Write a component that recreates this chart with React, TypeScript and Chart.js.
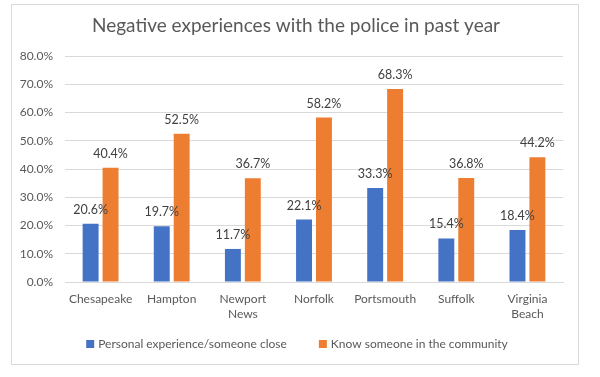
import React, { useEffect, useRef } from "react";
import { Chart, registerables } from "chart.js";

Chart.register(...registerables);

const categories: (string | string[])[] = [
  "Chesapeake",
  "Hampton",
  ["Newport", "News"],
  "Norfolk",
  "Portsmouth",
  "Suffolk",
  ["Virginia", "Beach"],
];
const personalValues = [20.6, 19.7, 11.7, 22.1, 33.3, 15.4, 18.4];
const communityValues = [40.4, 52.5, 36.7, 58.2, 68.3, 36.8, 44.2];
const seriesNames = ["Personal experience/someone close", "Know someone in the community"];
const seriesColors = ["#4472c4", "#ed7d31"];
const titleText = "Negative experiences with the police in past year";

const FONT = "Lato, 'Open Sans', sans-serif";

const frame = {
  id: "frame",
  beforeDraw(chart: any) {
    const ctx = chart.ctx;
    ctx.save();
    ctx.fillStyle = "#ffffff";
    ctx.fillRect(0, 0, chart.width, chart.height);
    ctx.strokeStyle = "#d9d9d9";
    ctx.lineWidth = 1;
    ctx.strokeRect(11.5, 4.5, 567, 360);
    // title
    ctx.fillStyle = "#595959";
    ctx.font = `19px ${FONT}`;
    ctx.textAlign = "center";
    ctx.textBaseline = "middle";
    ctx.fillText(titleText, 296, 26);
    // legend
    ctx.font = `12px ${FONT}`;
    ctx.textAlign = "left";
    const box = 8;
    const gapText = 4;
    const gapItem = 32;
    const widths = seriesNames.map((n) => box + gapText + ctx.measureText(n).width);
    const total = widths.reduce((a, b) => a + b, 0) + gapItem * (widths.length - 1);
    let x = 297 - total / 2;
    const y = 344;
    seriesNames.forEach((n, i) => {
      ctx.fillStyle = seriesColors[i];
      ctx.fillRect(x, y - box / 2, box, box);
      ctx.fillStyle = "#595959";
      ctx.fillText(n, x + box + gapText, y + 0.5);
      x += widths[i] + gapItem;
    });
    ctx.restore();
  },
};

const valueLabels = {
  id: "valueLabels",
  afterDatasetsDraw(chart: any) {
    const ctx = chart.ctx;
    ctx.save();
    ctx.font = `12.5px ${FONT}`;
    ctx.fillStyle = "#404040";
    ctx.textAlign = "center";
    ctx.textBaseline = "alphabetic";
    chart.data.datasets.forEach((ds: any, i: number) => {
      const meta = chart.getDatasetMeta(i);
      meta.data.forEach((bar: any, j: number) => {
        ctx.fillText(ds.data[j].toFixed(1) + "%", bar.x, bar.y - 10);
      });
    });
    ctx.restore();
  },
};

export default function App() {
  const ref = useRef<HTMLCanvasElement>(null);
  useEffect(() => {
    if (!ref.current) return;
    const chart = new Chart(ref.current, {
      type: "bar",
      data: {
        labels: categories,
        datasets: [
          {
            label: seriesNames[0],
            data: personalValues,
            backgroundColor: seriesColors[0],
            categoryPercentage: 0.56,
            barPercentage: 0.8,
          },
          {
            label: seriesNames[1],
            data: communityValues,
            backgroundColor: seriesColors[1],
            categoryPercentage: 0.56,
            barPercentage: 0.8,
          },
        ],
      },
      options: {
        responsive: false,
        animation: false,
        layout: { padding: { left: 12, right: 37, top: 56, bottom: 55 } },
        plugins: {
          title: { display: false },
          legend: { display: false },
          tooltip: { enabled: false },
        },
        scales: {
          x: {
            grid: { display: false, drawTicks: false },
            border: { color: "#d9d9d9" },
            ticks: {
              color: "#595959",
              font: { family: FONT, size: 12, lineHeight: 1.3 },
              padding: 9,
              maxRotation: 0,
              autoSkip: false,
            },
            afterFit: (s: any) => {
              s.height = 40;
            },
          },
          y: {
            min: 0,
            max: 80,
            grid: { color: "#d9d9d9", drawTicks: false },
            border: { display: false },
            ticks: {
              stepSize: 10,
              color: "#595959",
              font: { family: FONT, size: 12 },
              padding: 12,
              callback: (v: any) => Number(v).toFixed(1) + "%",
            },
            afterFit: (s: any) => {
              s.width = 53;
            },
          },
        },
      },
      plugins: [frame, valueLabels],
    });
    return () => chart.destroy();
  }, []);
  return (
    <div style={{ position: "fixed", left: 0, top: 0, width: 600, height: 377 }}>
      <canvas ref={ref} width={600} height={377} />
    </div>
  );
}
